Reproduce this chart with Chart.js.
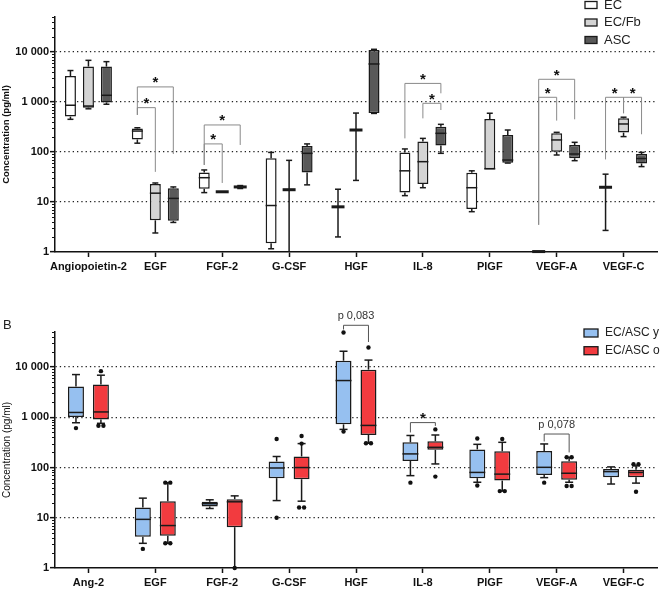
<!DOCTYPE html>
<html>
<head>
<meta charset="utf-8">
<script src="https://cdn.jsdelivr.net/npm/chart.js@4/dist/chart.umd.min.js"></script>
<style>
  html, body { margin: 0; padding: 0; background: #fff; }
  #wrap { position: relative; width: 661px; height: 589px; overflow: hidden; }
  #chartA { position: absolute; left: 0; top: 0; }
  #chartB { position: absolute; left: 0; top: 280px; }
  #labelB { position: absolute; left: 3px; top: 317px; font: 13px 'Liberation Sans', Arial, sans-serif; color: #222; }
</style>
</head>
<body>
<div id="wrap">
  <canvas id="chartA" width="661" height="280"></canvas>
  <canvas id="chartB" width="661" height="310"></canvas>
  <div id="labelB">B</div>
</div>
<script>
/* ================= DATA ================= */
const categoriesA = ['Angiopoietin-2', 'EGF', 'FGF-2', 'G-CSF', 'HGF', 'IL-8', 'PlGF', 'VEGF-A', 'VEGF-C'];
const categoriesB = ['Ang-2', 'EGF', 'FGF-2', 'G-CSF', 'HGF', 'IL-8', 'PlGF', 'VEGF-A', 'VEGF-C'];
const yTickValues = [1, 10, 100, 1000, 10000];
const yTickLabels = ['1', '10', '100', '1 000', '10 000'];
const yMin = 1;
const yMax = 50000;

// [min, q1, median, q3, max] for each category
const statsEC = [
  [450, 510, 860, 3300, 4250],
  [150, 178, 262, 295, 305],
  [15.4, 18.5, 30.6, 39, 43.7],
  [1.16, 1.5, 8.5, 75, 98],
  [2, 8, 8, 8, 18],
  [13.4, 15.4, 42, 98, 115],
  [6.4, 7.2, 19.3, 38.6, 42],
  [1.02, 1.02, 1.02, 1.02, 1.02],
  [2.7, 19.7, 19.7, 19.7, 36]
];
const statsECFb = [
  [730, 770, 830, 5100, 6800],
  [2.4, 4.3, 15, 23, 24],
  [16, 16, 16, 16, 16],
  [0.5, 17.6, 17.6, 17.6, 68],
  [27, 275, 275, 275, 600],
  [19.3, 23, 64, 162, 187],
  [45, 45, 46, 457, 595],
  [87, 101, 174, 237, 247],
  [203, 244, 363, 470, 496]
];
const statsASC = [
  [900, 980, 1360, 5100, 6400],
  [3.9, 4.2, 11.8, 18.8, 20],
  [18.6, 19.2, 20, 20.8, 21.3],
  [22, 39, 94, 132, 145],
  [590, 600, 5750, 11000, 11300],
  [94, 134, 236, 320, 357],
  [60, 61, 69, 219, 275],
  [67, 75, 91, 138, 156],
  [51, 59, 74, 91, 98]
];

const statsYoung = [
  [780, 1020, 1250, 4100, 7100],
  [3.1, 4.2, 9.3, 16, 24.6],
  [15.3, 16.8, 19, 20.8, 22.8],
  [22, 61.5, 98, 132, 166],
  [575, 725, 5400, 13400, 20700],
  [69, 135, 187, 318, 435],
  [51, 61.5, 80, 230, 290],
  [63, 71, 101, 214, 295],
  [47, 64, 83, 94, 103]
];
const statsOld = [
  [760, 910, 1280, 4500, 6900],
  [3.1, 4.4, 7.0, 21.4, 50],
  [1, 6.5, 20.8, 23.5, 27.3],
  [21.4, 58.5, 100, 166, 300],
  [305, 445, 690, 8900, 13800],
  [118, 225, 253, 333, 445],
  [34, 55, 74, 211, 318],
  [51, 57, 77, 134, 160],
  [49, 64, 80, 90, 108]
];
const outliersYoung = [[610], [2.4], [], [370, 10], [49000, 520], [50], [380, 44], [50], []];
const outliersOld = [[8300, 680, 680], [50, 50, 3.1, 3.1], [1], [425, 300, 16, 16], [24600, 305, 305], [575, 66], [370, 34, 34], [160, 160, 43, 43], [117, 117, 33]];

// [category, fromGroup, toGroup, top, fromEnd, toEnd, label]
const bracketsA = [
  [1, 0, 2, 2000, 550, 91, '*'],
  [1, 0, 1, 770, 550, 40, '*'],
  [2, 0, 2, 347, 55, 138, '*'],
  [2, 0, 1, 145, 55, 24, '*'],
  [5, 0, 2, 2350, 187, 1490, '*'],
  [5, 1, 2, 940, 470, 690, '*'],
  [7, 0, 2, 2840, 3.5, 450, '*'],
  [7, 0, 1, 1240, 3.5, 424, '*'],
  [8, 0, 1, 1240, 71, 595, '*'],
  [8, 1, 2, 1240, 595, 226, '*']
];
const bracketsB = [
  [4, 0, 1, 68000, 56000, 31600, 'p 0,083'],
  [5, 0, 1, 785, 500, 675, '*'],
  [7, 0, 1, 465, 330, 200, 'p 0,078']
];

/* ================= HELPERS ================= */
const FONT = "'Liberation Sans', Arial, sans-serif";

function line(ctx, x1, y1, x2, y2) {
  ctx.beginPath();
  ctx.moveTo(x1, y1);
  ctx.lineTo(x2, y2);
  ctx.stroke();
}

/* ================= PLUGINS ================= */
function boxWhiskers(cap, dot) {
  return {
    id: 'boxWhiskers',
    afterDatasetsDraw(chart) {
      const { ctx, chartArea } = chart;
      const y = chart.scales.y;
      const py = v => Math.min(y.getPixelForValue(v), chartArea.bottom);
      ctx.save();
      ctx.strokeStyle = '#1a1a1a';
      ctx.fillStyle = '#111';
      chart.data.datasets.forEach((ds, di) => {
        const meta = chart.getDatasetMeta(di);
        ds.stats.forEach((s, i) => {
          const bar = meta.data[i];
          const x = bar.x, w = bar.width;
          const [mn, q1, md, q3, mx] = s;
          ctx.lineWidth = 1.5;
          if (mx > q3) {
            line(ctx, x, py(q3), x, py(mx));
            line(ctx, x - cap / 2, py(mx), x + cap / 2, py(mx));
          }
          if (mn < q1) {
            line(ctx, x, py(q1), x, py(mn));
            if (mn > yMin) line(ctx, x - cap / 2, py(mn), x + cap / 2, py(mn));
          }
          if (q3 / q1 < 1.15) {
            ctx.lineWidth = 3;
            line(ctx, x - w / 2 - 1, py(md), x + w / 2 + 1, py(md));
          } else {
            line(ctx, x - w / 2, py(md), x + w / 2, py(md));
          }
          const pts = ds.outliers ? ds.outliers[i] : [];
          pts.forEach((v, k) => {
            const n = pts.filter(p => p === v).length;
            const idx = pts.slice(0, k).filter(p => p === v).length;
            const dx = (idx - (n - 1) / 2) * 5;
            ctx.beginPath();
            ctx.arc(x + dx, py(v), dot, 0, Math.PI * 2);
            ctx.fill();
          });
        });
      });
      ctx.restore();
    }
  };
}

function brackets(items, color) {
  return {
    id: 'brackets',
    afterDatasetsDraw(chart) {
      const ctx = chart.ctx;
      const y = chart.scales.y;
      ctx.save();
      ctx.strokeStyle = color;
      ctx.fillStyle = '#111';
      ctx.lineWidth = 1;
      ctx.textAlign = 'center';
      items.forEach(([cat, g1, g2, top, end1, end2, label]) => {
        const x1 = chart.getDatasetMeta(g1).data[cat].x;
        const x2 = chart.getDatasetMeta(g2).data[cat].x;
        const yt = y.getPixelForValue(top);
        ctx.beginPath();
        ctx.moveTo(x1, y.getPixelForValue(end1));
        ctx.lineTo(x1, yt);
        ctx.lineTo(x2, yt);
        ctx.lineTo(x2, y.getPixelForValue(end2));
        ctx.stroke();
        if (label === '*') {
          ctx.font = 'bold 15px ' + FONT;
          ctx.textBaseline = 'alphabetic';
          ctx.fillText(label, (x1 + x2) / 2, yt + 0.5);
        } else {
          ctx.font = '11px ' + FONT;
          ctx.fillStyle = '#333';
          ctx.textBaseline = 'middle';
          ctx.fillText(label, (x1 + x2) / 2, yt - 9);
          ctx.fillStyle = '#111';
        }
      });
      ctx.restore();
    }
  };
}

function boxLegend(x, y0, step, size, bw, bh) {
  return {
    id: 'boxLegend',
    afterDraw(chart) {
      const ctx = chart.ctx;
      ctx.save();
      ctx.font = size + 'px ' + FONT;
      ctx.textBaseline = 'middle';
      ctx.textAlign = 'left';
      chart.data.datasets.forEach((ds, i) => {
        const yy = y0 + i * step;
        ctx.fillStyle = ds.backgroundColor;
        ctx.fillRect(x, yy - bh / 2, bw, bh);
        ctx.strokeStyle = '#1a1a1a';
        ctx.lineWidth = 1.3;
        ctx.strokeRect(x, yy - bh / 2, bw, bh);
        ctx.fillStyle = '#222';
        ctx.fillText(ds.label, x + bw + 7, yy);
      });
      ctx.restore();
    }
  };
}

const minorTicks = {
  id: 'minorTicks',
  afterDraw(chart) {
    const ctx = chart.ctx;
    const y = chart.scales.y;
    ctx.save();
    ctx.strokeStyle = '#111';
    ctx.lineWidth = 1;
    for (let d = 1; d <= 10000; d *= 10) {
      for (let m = 2; m <= 9; m++) {
        const v = d * m;
        if (v > yMax) break;
        const p = Math.round(y.getPixelForValue(v)) + 0.5;
        line(ctx, y.right - 3, p, y.right, p);
      }
    }
    ctx.restore();
  }
};

/* ================= CHARTS ================= */
function makeChart(id, labels, datasets, cfg) {
  return new Chart(document.getElementById(id), {
    type: 'bar',
    data: { labels, datasets },
    options: {
      responsive: false,
      animation: false,
      events: [],
      layout: { padding: { top: cfg.top, right: 4, left: 0, bottom: 0 } },
      datasets: {
        bar: {
          categoryPercentage: cfg.catPct,
          barPercentage: cfg.barPct,
          borderSkipped: false,
          borderWidth: 1.5,
          borderColor: '#1a1a1a'
        }
      },
      plugins: { legend: { display: false }, tooltip: { enabled: false } },
      scales: {
        x: {
          grid: { offset: false, drawOnChartArea: false, tickLength: 5, tickColor: '#111', tickWidth: 1.5 },
          border: { color: '#111', width: 1.5 },
          ticks: { color: '#111', font: { family: FONT, size: 11, weight: 'bold' }, padding: 3, maxRotation: 0, autoSkip: false },
          afterFit: s => { s.height = cfg.xHeight; }
        },
        y: {
          type: 'logarithmic',
          min: yMin,
          max: yMax,
          afterBuildTicks: s => { s.ticks = yTickValues.map(v => ({ value: v })); },
          afterFit: s => { s.width = 55; },
          grid: {
            color: c => (c.tick && c.tick.value > 1 ? '#222' : 'rgba(0,0,0,0)'),
            lineWidth: 1.3,
            tickLength: 5,
            tickColor: '#111',
            tickWidth: 1.5,
            tickBorderDash: []
          },
          border: { color: '#111', width: 1.5, dash: [1.3, 3] },
          ticks: {
            color: '#111',
            font: { family: FONT, size: 11, weight: 'bold' },
            padding: 1,
            callback: v => yTickLabels[yTickValues.indexOf(v)] || ''
          },
          title: {
            display: true,
            text: 'Concentration (pg/ml)',
            color: '#111',
            font: { family: FONT, size: cfg.titleSize, weight: cfg.titleWeight },
            padding: { top: 1, bottom: 0 }
          }
        }
      }
    },
    plugins: cfg.plugins
  });
}

const floating = stats => stats.map(s => [s[1], s[3]]);

makeChart('chartA', categoriesA, [
  { label: 'EC', data: floating(statsEC), stats: statsEC, backgroundColor: '#ffffff' },
  { label: 'EC/Fb', data: floating(statsECFb), stats: statsECFb, backgroundColor: '#d4d4d4' },
  { label: 'ASC', data: floating(statsASC), stats: statsASC, backgroundColor: '#595959' }
], {
  top: 17, xHeight: 28, catPct: 0.807, barPct: 0.61, titleSize: 9.5, titleWeight: 'bold',
  plugins: [boxWhiskers(6, 2), brackets(bracketsA, '#8a8a8a'), boxLegend(585, 5, 17.5, 13, 12, 7), minorTicks]
});

makeChart('chartB', categoriesB, [
  { label: 'EC/ASC y', data: floating(statsYoung), stats: statsYoung, outliers: outliersYoung, backgroundColor: '#96c0f0' },
  { label: 'EC/ASC o', data: floating(statsOld), stats: statsOld, outliers: outliersOld, backgroundColor: '#f23b3f' }
], {
  top: 52, xHeight: 22, catPct: 0.746, barPct: 0.64, titleSize: 10, titleWeight: 'normal',
  plugins: [boxWhiskers(8, 2.2), brackets(bracketsB, '#555'), boxLegend(584, 53, 17.7, 12, 14, 8), minorTicks]
});
</script>
</body>
</html>
